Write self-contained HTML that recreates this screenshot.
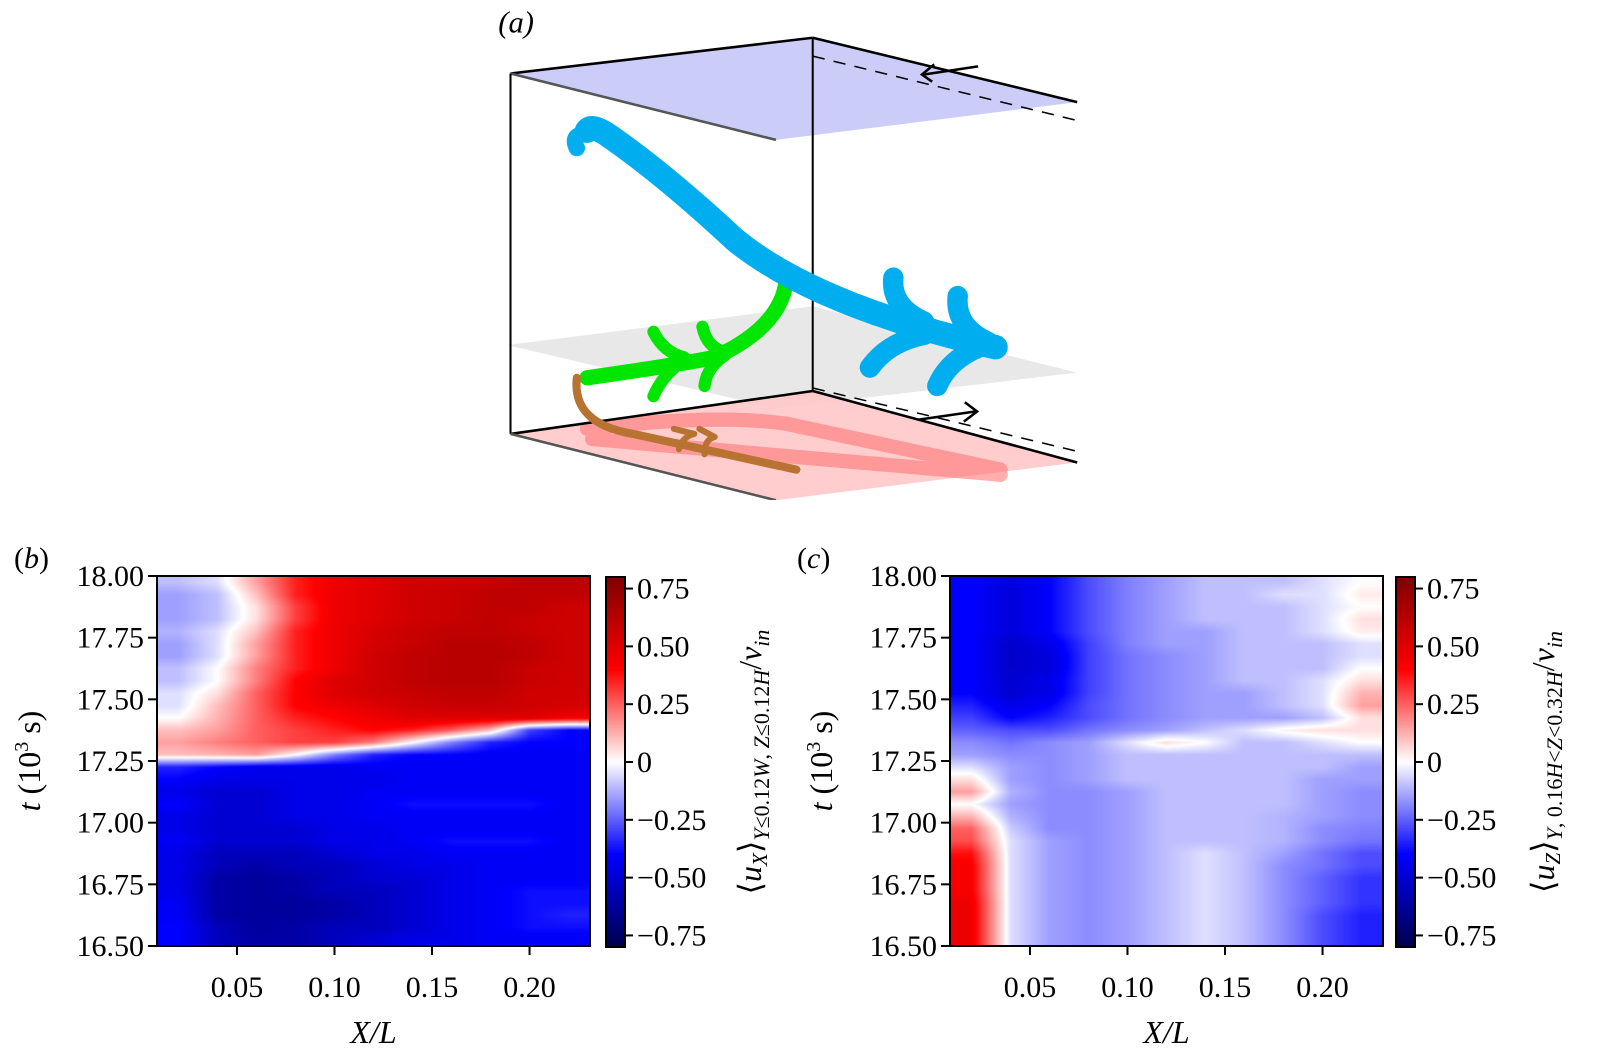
<!DOCTYPE html>
<html><head><meta charset="utf-8">
<style>
html,body{margin:0;padding:0;background:#fff;}
#root{position:relative;width:1599px;height:1058px;overflow:hidden;font-family:"Liberation Serif",serif;}
canvas{position:absolute;}
svg{position:absolute;left:0;top:0;font-family:"Liberation Serif",serif;}
svg text{font-family:"Liberation Serif",serif;}
</style></head>
<body>
<div id="root">
<svg width="1599" height="500">
 <g transform="scale(1.021)">
  <polygon points="500,72 796,37 1055,100 760,137" fill="#ccccf8"/>
  <polygon points="497,338 796,300 1055,365 760,400" fill="#e6e6e6" opacity="0.9"/>
  <polygon points="500,425 796,383 1055,453 760,490" fill="#ffc8c8" opacity="0.9"/>
  <g stroke="#f77" stroke-width="14" fill="none" opacity="0.6" stroke-linecap="round">
   <path d="M575,420 Q700,405 770,415 L980,460"/>
   <path d="M580,430 L980,465"/>
  </g>
  <g stroke="#000" stroke-width="2" fill="none">
   <line x1="500" y1="72" x2="796" y2="37" stroke-width="2.5"/>
   <line x1="796" y1="37" x2="1055" y2="100" stroke-width="2.5"/>
   <line x1="500" y1="72" x2="760" y2="137" stroke="#555" stroke-width="2.5"/>
   <line x1="500" y1="72" x2="500" y2="425"/>
   <line x1="796" y1="37" x2="796" y2="383"/>
   <line x1="500" y1="425" x2="796" y2="383" stroke-width="2.5"/>
   <line x1="796" y1="383" x2="1055" y2="453" stroke-width="2.5"/>
   <line x1="500" y1="425" x2="760" y2="490" stroke="#555" stroke-width="2.5"/>
   <line x1="796" y1="55" x2="1055" y2="118" stroke-dasharray="12,9" stroke-width="1.5"/>
   <line x1="796" y1="380" x2="1055" y2="442" stroke-dasharray="12,9" stroke-width="1.5"/>
   <path d="M958,65 L905,73 M915,63 L903,73 L913,80" stroke-width="2.5"/>
   <path d="M900,411 L955,403 M945,394 L957,403 L944,413" stroke-width="2.5"/>
  </g>
  <g fill="none" stroke-linecap="round">
   <path d="M575,370 Q660,358 700,350 Q765,320 770,275" stroke="#00e600" stroke-width="15"/>
   <path d="M640,325 Q650,345 670,350 M688,320 Q692,340 710,345 M640,388 Q650,365 672,352 M690,378 Q692,360 710,348" stroke="#00e600" stroke-width="12"/>
   <path d="M565,370 Q560,415 620,425 L780,460" stroke="#b87333" stroke-width="8"/>
   <path d="M665,440 Q668,428 680,425 M690,445 Q690,430 700,428 M660,420 L680,425 M685,420 L700,428" stroke="#b87333" stroke-width="6"/>
   <path d="M575,128 Q580,122 595,132 Q650,170 720,235 Q800,300 975,340" stroke="#00aeef" stroke-width="24"/>
   <path d="M568,132 Q560,135 565,145" stroke="#00aeef" stroke-width="16"/>
   <path d="M875,272 Q872,300 905,315 M938,290 Q935,320 968,335 M852,360 Q870,335 905,328 M918,378 Q930,350 965,338" stroke="#00aeef" stroke-width="20"/>
  </g>
  <text x="488" y="32" font-size="30" font-style="italic">(<tspan>a</tspan>)</text>
 </g>
</svg>

<canvas id="hb" width="433" height="370" style="left:157px;top:576px"></canvas>
<canvas id="hc" width="433" height="370" style="left:950px;top:576px"></canvas>
<canvas id="cbb" width="19" height="370" style="left:606px;top:577px"></canvas>
<canvas id="cbc" width="19" height="370" style="left:1396px;top:577px"></canvas>
<svg id="axes" width="1599" height="1058"></svg>
</div>
<script>
const xCenters=[0.02,0.04,0.06,0.08,0.10,0.12,0.14,0.16,0.18,0.20,0.22];
const tCenters=[17.975,17.925,17.875,17.825,17.775,17.725,17.675,17.625,17.575,17.525,17.475,17.425,17.375,17.325,17.275,17.225,17.175,17.125,17.075,17.025,16.975,16.925,16.875,16.825,16.775,16.725,16.675,16.625,16.575,16.525];
const valuesB=[
[-0.1,-0.05,0.15,0.35,0.45,0.5,0.55,0.55,0.57,0.6,0.6],
[-0.15,-0.1,0.1,0.35,0.45,0.5,0.55,0.57,0.6,0.6,0.6],
[-0.15,-0.1,0.05,0.3,0.45,0.5,0.55,0.57,0.6,0.6,0.55],
[-0.15,-0.1,0.05,0.3,0.45,0.5,0.55,0.57,0.6,0.57,0.55],
[-0.12,-0.05,0.1,0.35,0.45,0.53,0.57,0.6,0.6,0.57,0.55],
[-0.15,-0.05,0.15,0.35,0.45,0.53,0.57,0.62,0.62,0.6,0.55],
[-0.15,-0.05,0.15,0.35,0.45,0.55,0.6,0.62,0.63,0.6,0.55],
[-0.1,0.0,0.2,0.35,0.45,0.55,0.6,0.62,0.62,0.57,0.55],
[-0.1,0.0,0.2,0.4,0.5,0.55,0.6,0.62,0.62,0.57,0.55],
[-0.05,0.05,0.25,0.4,0.5,0.55,0.57,0.6,0.6,0.55,0.55],
[-0.05,0.1,0.25,0.4,0.45,0.5,0.55,0.57,0.57,0.55,0.53],
[0.0,0.12,0.25,0.35,0.4,0.45,0.5,0.5,0.5,0.5,0.45],
[0.1,0.15,0.25,0.3,0.35,0.4,0.35,0.25,0.1,-0.3,-0.4],
[0.15,0.2,0.25,0.3,0.3,0.2,0.0,-0.2,-0.35,-0.4,-0.4],
[0.1,0.12,0.15,0.0,-0.2,-0.35,-0.4,-0.4,-0.42,-0.42,-0.42],
[-0.35,-0.4,-0.45,-0.45,-0.45,-0.42,-0.42,-0.42,-0.42,-0.42,-0.42],
[-0.4,-0.45,-0.45,-0.45,-0.45,-0.45,-0.42,-0.42,-0.42,-0.42,-0.42],
[-0.45,-0.5,-0.5,-0.45,-0.45,-0.42,-0.42,-0.42,-0.42,-0.42,-0.42],
[-0.4,-0.5,-0.5,-0.45,-0.45,-0.42,-0.38,-0.38,-0.38,-0.38,-0.42],
[-0.45,-0.5,-0.5,-0.45,-0.45,-0.42,-0.42,-0.42,-0.42,-0.42,-0.42],
[-0.45,-0.5,-0.5,-0.5,-0.45,-0.45,-0.42,-0.42,-0.42,-0.42,-0.42],
[-0.42,-0.5,-0.5,-0.5,-0.45,-0.45,-0.42,-0.38,-0.38,-0.38,-0.42],
[-0.45,-0.55,-0.55,-0.55,-0.5,-0.45,-0.45,-0.42,-0.42,-0.42,-0.42],
[-0.45,-0.55,-0.6,-0.55,-0.55,-0.5,-0.45,-0.45,-0.42,-0.42,-0.42],
[-0.45,-0.6,-0.62,-0.6,-0.55,-0.5,-0.5,-0.45,-0.42,-0.42,-0.42],
[-0.45,-0.6,-0.62,-0.6,-0.55,-0.55,-0.5,-0.45,-0.42,-0.38,-0.38],
[-0.42,-0.6,-0.62,-0.62,-0.6,-0.55,-0.5,-0.45,-0.42,-0.38,-0.38],
[-0.42,-0.6,-0.62,-0.62,-0.6,-0.55,-0.5,-0.45,-0.42,-0.38,-0.35],
[-0.4,-0.55,-0.62,-0.6,-0.55,-0.55,-0.5,-0.45,-0.42,-0.38,-0.38],
[-0.4,-0.55,-0.6,-0.6,-0.55,-0.5,-0.45,-0.45,-0.42,-0.42,-0.42]];
const valuesC=[
[-0.4,-0.48,-0.4,-0.28,-0.2,-0.15,-0.1,-0.1,-0.1,-0.05,0.0],
[-0.4,-0.48,-0.4,-0.28,-0.2,-0.15,-0.1,-0.1,-0.05,-0.05,0.03],
[-0.4,-0.48,-0.4,-0.28,-0.2,-0.15,-0.1,-0.1,-0.1,-0.05,0.0],
[-0.4,-0.48,-0.4,-0.28,-0.2,-0.15,-0.1,-0.1,-0.1,-0.05,0.05],
[-0.4,-0.48,-0.4,-0.28,-0.2,-0.15,-0.15,-0.1,-0.1,-0.05,0.03],
[-0.4,-0.52,-0.45,-0.3,-0.2,-0.15,-0.15,-0.1,-0.1,-0.1,-0.05],
[-0.4,-0.52,-0.48,-0.3,-0.22,-0.18,-0.15,-0.1,-0.1,-0.1,-0.05],
[-0.4,-0.52,-0.48,-0.3,-0.22,-0.18,-0.15,-0.1,-0.1,-0.1,0.0],
[-0.4,-0.5,-0.45,-0.3,-0.22,-0.18,-0.15,-0.1,-0.1,-0.05,0.05],
[-0.4,-0.5,-0.45,-0.3,-0.22,-0.18,-0.15,-0.15,-0.1,-0.05,0.12],
[-0.35,-0.45,-0.4,-0.28,-0.22,-0.18,-0.15,-0.15,-0.1,-0.05,0.15],
[-0.3,-0.4,-0.35,-0.28,-0.22,-0.18,-0.15,-0.15,-0.15,-0.1,0.05],
[-0.25,-0.28,-0.28,-0.22,-0.18,-0.15,-0.1,-0.05,0.02,0.05,0.05],
[-0.18,-0.22,-0.18,-0.15,-0.05,0.05,0.0,-0.1,-0.1,-0.05,0.0],
[-0.15,-0.18,-0.18,-0.15,-0.1,-0.1,-0.1,-0.1,-0.1,-0.1,-0.1],
[-0.05,-0.15,-0.18,-0.15,-0.1,-0.1,-0.1,-0.1,-0.1,-0.1,-0.15],
[0.05,-0.15,-0.18,-0.15,-0.1,-0.1,-0.1,-0.1,-0.1,-0.15,-0.15],
[0.15,-0.12,-0.18,-0.18,-0.15,-0.1,-0.1,-0.1,-0.1,-0.15,-0.18],
[0.0,-0.15,-0.18,-0.18,-0.15,-0.1,-0.1,-0.1,-0.1,-0.15,-0.18],
[0.12,-0.12,-0.18,-0.18,-0.15,-0.1,-0.1,-0.1,-0.12,-0.15,-0.18],
[0.25,-0.08,-0.18,-0.18,-0.15,-0.1,-0.1,-0.1,-0.12,-0.18,-0.2],
[0.28,-0.05,-0.15,-0.18,-0.15,-0.1,-0.1,-0.1,-0.12,-0.18,-0.22],
[0.38,-0.05,-0.15,-0.18,-0.15,-0.1,-0.05,-0.1,-0.15,-0.22,-0.28],
[0.42,-0.05,-0.15,-0.18,-0.15,-0.1,-0.05,-0.1,-0.18,-0.22,-0.28],
[0.42,-0.05,-0.15,-0.18,-0.15,-0.1,-0.05,-0.1,-0.18,-0.25,-0.32],
[0.42,-0.05,-0.15,-0.18,-0.15,-0.1,-0.05,-0.1,-0.18,-0.25,-0.32],
[0.45,-0.05,-0.15,-0.18,-0.15,-0.1,-0.05,-0.1,-0.18,-0.25,-0.32],
[0.45,-0.05,-0.15,-0.18,-0.15,-0.1,-0.05,-0.1,-0.18,-0.28,-0.35],
[0.45,-0.05,-0.15,-0.18,-0.15,-0.1,-0.05,-0.1,-0.18,-0.28,-0.35],
[0.45,-0.05,-0.15,-0.18,-0.15,-0.1,-0.05,-0.1,-0.18,-0.28,-0.35]];
const yTickVals=[18.00,17.75,17.50,17.25,17.00,16.75,16.50];
const yTickLabels=["18.00","17.75","17.50","17.25","17.00","16.75","16.50"];
const xTickVals=[0.05,0.10,0.15,0.20];
const xTickLabels=["0.05","0.10","0.15","0.20"];
const cbTickVals=[0.75,0.5,0.25,0,-0.25,-0.5,-0.75];
const cbTickLabels=["0.75","0.50","0.25","0","\u22120.25","\u22120.50","\u22120.75"];

const X0=0.009,X1=0.231,T0=16.5,T1=18.0,VMAX=0.80;
const PW=433,PH=370,PTOP=576;
function xs(left,v){return left+(v-X0)/(X1-X0)*PW;}
function ys(t){return PTOP+(T1-t)/(T1-T0)*PH;}
function cby(v){return 577+(VMAX-v)/(2*VMAX)*370;}

function seismic(v){
  let t=(v+VMAX)/(2*VMAX); t=Math.max(0,Math.min(1,t));
  const R=[[0,0],[0.25,0],[0.5,1],[0.75,1],[1,0.5]];
  const G=[[0,0],[0.25,0],[0.5,1],[0.75,0],[1,0]];
  const B=[[0,0.3],[0.25,1],[0.5,1],[0.75,0],[1,0]];
  function seg(s){for(let i=0;i<s.length-1;i++){if(t<=s[i+1][0]){const f=(t-s[i][0])/(s[i+1][0]-s[i][0]);return s[i][1]+f*(s[i+1][1]-s[i][1]);}}return s[s.length-1][1];}
  return [seg(R)*255,seg(G)*255,seg(B)*255];
}
function drawHeat(id,vals,left){
  const cv=document.getElementById(id),ctx=cv.getContext('2d');
  const img=ctx.createImageData(PW,PH);
  const cx=xCenters.map(v=>xs(left,v)), cy=tCenters.map(t=>ys(t));
  function idx(arr,p){
    if(p<=arr[0]) return [0,0,0];
    if(p>=arr[arr.length-1]) return [arr.length-1,arr.length-1,0];
    for(let i=0;i<arr.length-1;i++){if(p<=arr[i+1]) return [i,i+1,(p-arr[i])/(arr[i+1]-arr[i])];}
  }
  for(let j=0;j<PH;j++){
    const [r0,r1,fy]=idx(cy,PTOP+j+0.5);
    for(let i=0;i<PW;i++){
      const [c0,c1,fx]=idx(cx,left+i+0.5);
      const a=vals[r0][c0]*(1-fx)+vals[r0][c1]*fx;
      const b=vals[r1][c0]*(1-fx)+vals[r1][c1]*fx;
      const v=a*(1-fy)+b*fy;
      const c=seismic(v),k=(j*PW+i)*4;
      img.data[k]=c[0];img.data[k+1]=c[1];img.data[k+2]=c[2];img.data[k+3]=255;
    }
  }
  ctx.putImageData(img,0,0);
}
function drawCB(id){
  const cv=document.getElementById(id),ctx=cv.getContext('2d');
  for(let j=0;j<370;j++){
    const v=VMAX-(j+0.5)/370*2*VMAX;const c=seismic(v);
    ctx.fillStyle=`rgb(${c[0]|0},${c[1]|0},${c[2]|0})`;ctx.fillRect(0,j,19,1);
  }
}
drawHeat('hb',valuesB,157);
drawHeat('hc',valuesC,950);
drawCB('cbb');drawCB('cbc');

const NS='http://www.w3.org/2000/svg';
const svg=document.getElementById('axes');
function el(tag,attrs,text){const e=document.createElementNS(NS,tag);for(const k in attrs)e.setAttribute(k,attrs[k]);if(text!==undefined)e.textContent=text;svg.appendChild(e);return e;}

function panel(left,cbLeft,tag,cbHTML,ylabX,cbLabX){
  const f=el('rect',{x:left,y:PTOP,width:PW,height:PH,fill:'none',stroke:'#000','stroke-width':2});
  
  
  yTickVals.forEach((v,i)=>{
    const y=ys(v);
    const t=el('line',{x1:left-9,x2:left,y1:y,y2:y,stroke:'#000','stroke-width':2});
    
    
    const l=el('text',{x:left-13,y:y+10,'font-size':30,'text-anchor':'end'},yTickLabels[i]);
    
    
  });
  xTickVals.forEach((v,i)=>{
    const x=xs(left,v);
    const t=el('line',{x1:x,x2:x,y1:PTOP+PH,y2:PTOP+PH+9,stroke:'#000','stroke-width':2});
    
    
    const l=el('text',{x:x,y:997,'font-size':30,'text-anchor':'middle'},xTickLabels[i]);
    
    
  });
  const xt=el('text',{x:left+PW/2,y:1043,'font-size':32,'font-style':'italic','text-anchor':'middle'},'X/L');
  
  
  const yt=el('text',{x:0,y:0,'font-size':32,'text-anchor':'middle',transform:`translate(${ylabX},761) rotate(-90)`});
  yt.innerHTML='<tspan font-style="italic">t</tspan> (10<tspan font-size="20" dy="-12">3</tspan><tspan dy="12"> s)</tspan>';
  
  
  const cf=el('rect',{x:cbLeft,y:577,width:19,height:370,fill:'none',stroke:'#000','stroke-width':2});
  
  
  cbTickVals.forEach((v,i)=>{
    const y=cby(v);
    const t=el('line',{x1:cbLeft+19,x2:cbLeft+27,y1:y,y2:y,stroke:'#000','stroke-width':2});
    
    
    const l=el('text',{x:cbLeft+31,y:y+10,'font-size':30},cbTickLabels[i]);
    
    
  });
  const cl=el('text',{x:0,y:0,'font-size':32,'text-anchor':'middle',transform:`translate(${cbLabX},762) rotate(-90)`});
  cl.innerHTML=cbHTML;
  
  
}
panel(157,606,'b','\u27E8<tspan font-style="italic">u</tspan><tspan font-style="italic" font-size="21" dy="6">X</tspan><tspan dy="-6">\u27E9</tspan><tspan font-size="22" dy="8"><tspan font-style="italic">Y</tspan>\u22640.12<tspan font-style="italic">W</tspan>, <tspan font-style="italic">Z</tspan>\u22640.12<tspan font-style="italic">H</tspan></tspan><tspan dy="-8">/</tspan><tspan font-style="italic">v</tspan><tspan font-style="italic" font-size="22" dy="8">in</tspan>',40,761);
panel(950,1396,'c','\u27E8<tspan font-style="italic">u</tspan><tspan font-style="italic" font-size="21" dy="6">Z</tspan><tspan dy="-6">\u27E9</tspan><tspan font-size="22" dy="8"><tspan font-style="italic">Y</tspan>, 0.16<tspan font-style="italic">H</tspan>&lt;<tspan font-style="italic">Z</tspan>&lt;0.32<tspan font-style="italic">H</tspan></tspan><tspan dy="-8">/</tspan><tspan font-style="italic">v</tspan><tspan font-style="italic" font-size="22" dy="8">in</tspan>',832,1554);
const pb=el('text',{x:14,y:568,'font-size':30},'');
pb.innerHTML='(<tspan font-style="italic">b</tspan>)';


const pc=el('text',{x:797,y:568,'font-size':30},'');
pc.innerHTML='(<tspan font-style="italic">c</tspan>)';


</script>
</body></html>
